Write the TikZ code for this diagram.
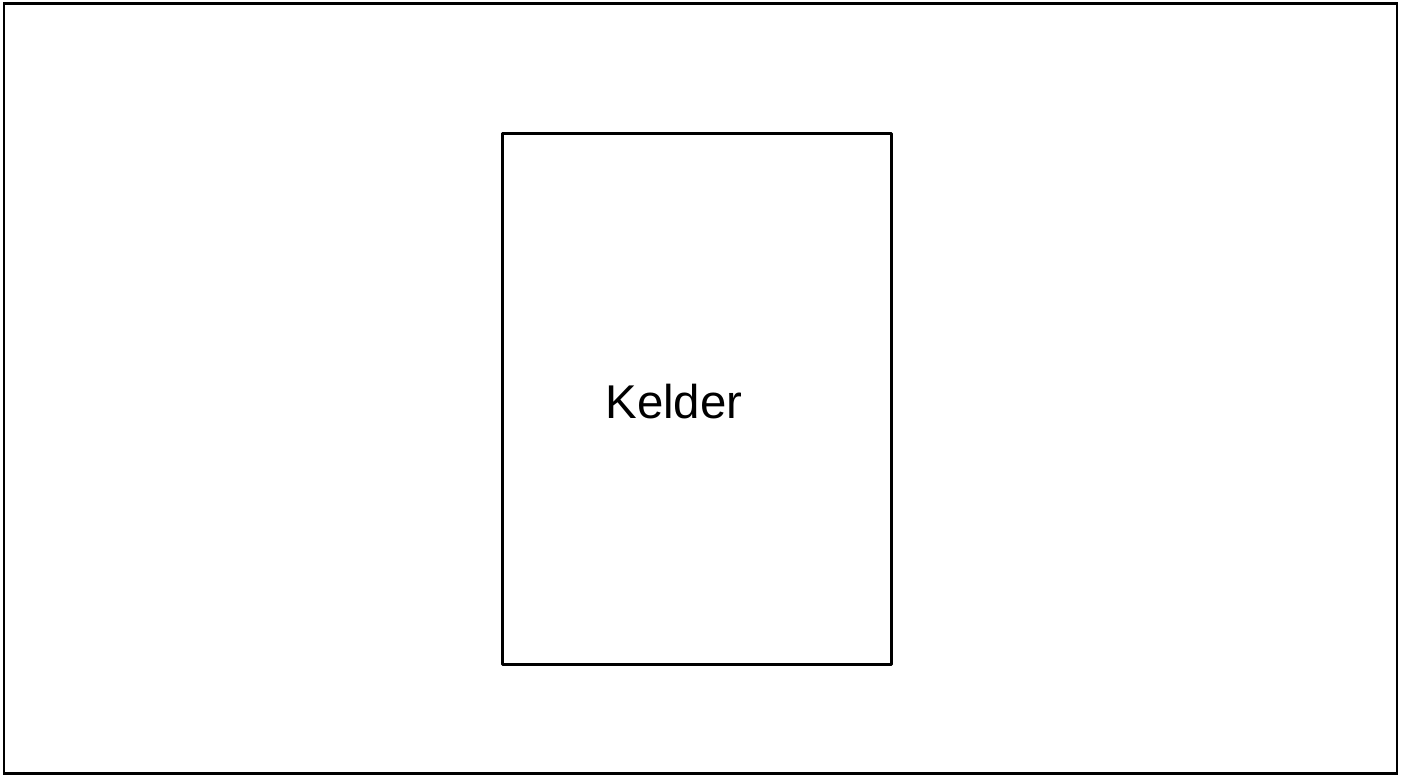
\documentclass[tikz,border=0pt]{standalone}
\usepackage{fontspec}
\setmainfont{Liberation Sans}
\begin{document}
\begin{tikzpicture}[x=1pt,y=-1pt,
  frame/.style={draw=black,line width=2.2pt},
  room/.style={draw=black,line width=2.6pt,line join=round}]
\useasboundingbox (0,0) rectangle (1408,776);
\draw[frame] (4,3.5) rectangle (1397,773.5);
\node[room,minimum width=389pt,minimum height=531pt,inner sep=0pt,anchor=north west] (kelder) at (501,132) {};
\node[font=\fontsize{47.4pt}{56pt}\selectfont,inner sep=0pt] (label) at (674,402) {Kelder};
\end{tikzpicture}
\end{document}
